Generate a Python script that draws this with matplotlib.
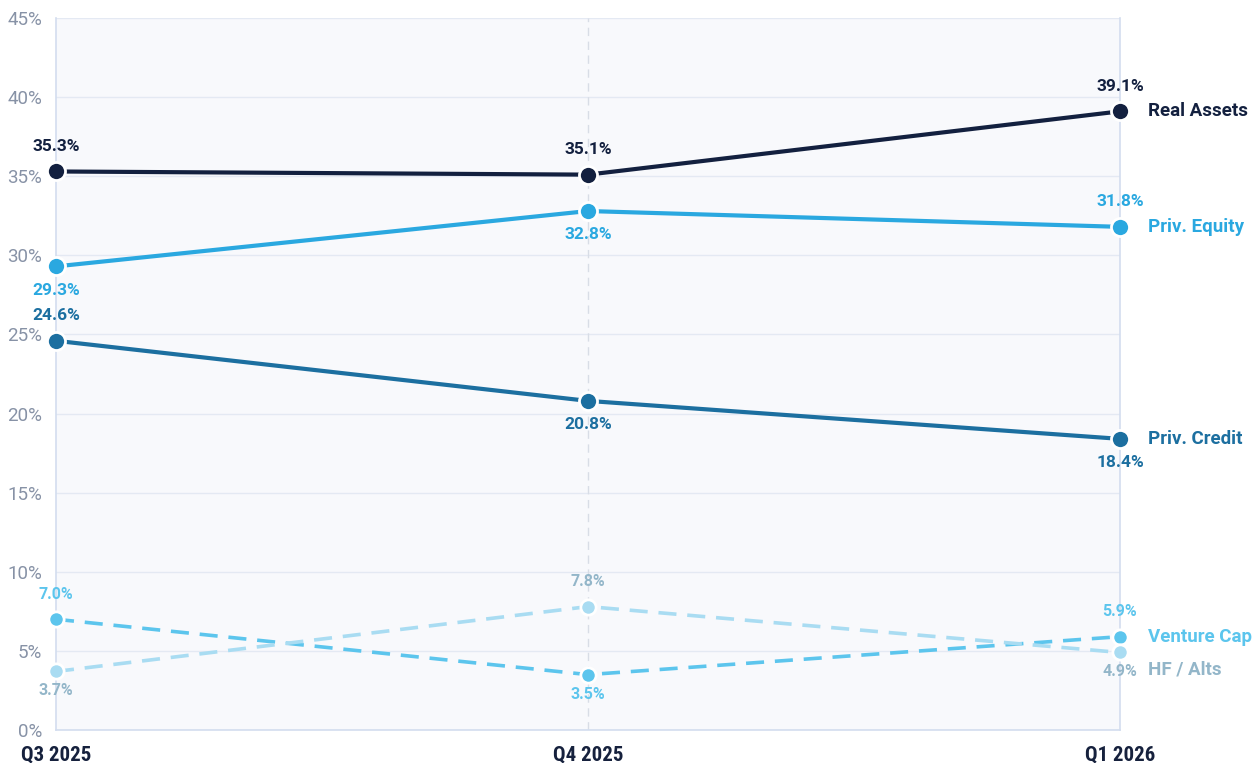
import matplotlib
matplotlib.use("Agg")
import matplotlib.pyplot as plt
from matplotlib.ticker import FuncFormatter

quarters = ["Q3 2025", "Q4 2025", "Q1 2026"]
real_assets = [35.3, 35.1, 39.1]
priv_equity = [29.3, 32.8, 31.8]
priv_credit = [24.6, 20.8, 18.4]
venture_cap = [7.0, 3.5, 5.9]
hf_alts = [3.7, 7.8, 4.9]
y_ticks = [0, 5, 10, 15, 20, 25, 30, 35, 40, 45]

W, H = 1258, 763
fig = plt.figure(figsize=(W / 100, H / 100), dpi=100)
ax = fig.add_axes([56 / W, 1 - 730 / H, (1120 - 56) / W, (730 - 18) / H])
ax.set_facecolor("#f8f9fc")
x = list(range(len(quarters)))

ax.set_xlim(0, 2)
ax.set_ylim(0, 45)
ax.set_yticks(y_ticks)
ax.yaxis.set_major_formatter(FuncFormatter(lambda v, p: f"{v:.0f}%"))
ax.grid(axis="y", color="#e4e9f3", lw=1)
ax.set_axisbelow(True)
for s in ["left", "right", "bottom"]:
    ax.spines[s].set_color("#d3ddef")
    ax.spines[s].set_linewidth(1.2)
ax.spines["top"].set_visible(False)
ax.axvline(1, color="#d8dde6", lw=1, ls=(0, (6, 4)), zorder=1)
ax.tick_params(axis="both", length=0)
ax.tick_params(axis="y", pad=10, labelsize=13.5, labelcolor="#8792a6")
for t in ax.get_yticklabels():
    t.set_fontfamily(["Roboto", "DejaVu Sans"])
    t.set_fontweight("normal")
ax.set_xticks(x)
ax.set_xticklabels(quarters)
ax.tick_params(axis="x", pad=11)
for t in ax.get_xticklabels():
    t.set_fontfamily(["Roboto Condensed", "Liberation Sans Narrow", "DejaVu Sans"])
    t.set_fontweight("bold")
    t.set_fontsize(15)
    t.set_color("#16213d")

font = ["Roboto", "DejaVu Sans"]

series = [
    ("Real Assets", real_assets, "#13203f", "#13203f", "-", ["a", "a", "a"], 0),
    ("Priv. Equity", priv_equity, "#2aa8e0", "#2aa8e0", "-", ["b", "b", "a"], 0),
    ("Priv. Credit", priv_credit, "#1c6fa0", "#1c6fa0", "-", ["a", "b", "b"], 0),
    ("Venture Cap", venture_cap, "#5cc5ed", "#5cc5ed", "--", ["a", "b", "a"], 0),
    ("HF / Alts", hf_alts, "#a9dcf2", "#93b6c9", "--", ["b", "a", "b"], -12),
]

for name, vals, col, lcol, ls, pos, nudge in series:
    dashed = ls == "--"
    ax.plot(x, vals, color=col, lw=2.6 if dashed else 3.0,
            ls=(0, (5, 3)) if dashed else "-",
            marker="o", ms=11 if dashed else 13, mfc=col, mec="white", mew=2,
            clip_on=False, zorder=3, solid_capstyle="round")
    for xi, v, p in zip(x, vals, pos):
        off = 18 if p == "a" else -17
        if dashed:
            off = 18 if p == "a" else -14
        ax.annotate(f"{v:.1f}%", (xi, v), xytext=(0, off), textcoords="offset points",
                    ha="center", va="center", fontsize=11.5 if dashed else 12.5,
                    fontweight="bold", color=lcol, family=font, zorder=4,
                    annotation_clip=False)
    ax.annotate(name, (2, vals[-1]), xytext=(20, nudge), textcoords="offset points",
                ha="left", va="center", fontsize=13.5, fontweight="bold",
                color=lcol, family=font, annotation_clip=False)

fig.savefig("out.png", dpi=100, facecolor="white")
